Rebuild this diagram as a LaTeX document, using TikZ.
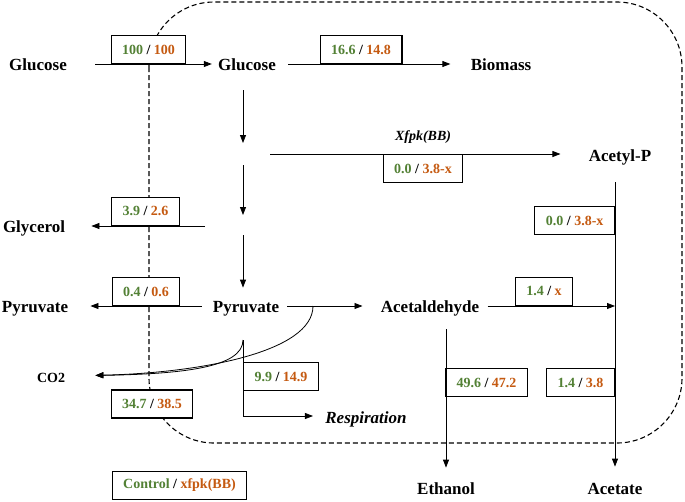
\documentclass[tikz,border=0pt]{standalone}
\usepackage{fontspec}
\setmainfont{Liberation Serif}
\usetikzlibrary{arrows.meta}
\definecolor{ctrlgreen}{HTML}{538135}
\definecolor{xfpkorange}{HTML}{C55A11}
\newcommand{\fluxpair}[2]{\textcolor{ctrlgreen}{#1} / \textcolor{xfpkorange}{#2}}

\begin{document}
\begin{tikzpicture}[x=1pt,y=-1pt,->,>={Triangle[length=8pt,width=6pt]},%
    line width=0.8pt,
    met/.style={font=\fontsize{17}{20}\selectfont\bfseries,inner sep=0pt,
        text height=12pt,text depth=0pt},
    flux/.style={draw,fill=white,line width=1.1pt,
        font=\fontsize{14}{16}\selectfont\bfseries,
        minimum height=28pt,inner xsep=11pt,inner ysep=0pt},
    cell/.style={-,dash pattern=on 5pt off 3pt,line width=1.1pt,
        rounded corners=65pt}]

    \useasboundingbox (0,0) rectangle (685,501);
    \draw[cell] (149,2) rectangle (682,443);

    \node[met] (glcout)   at (38,64)   {Glucose};
    \node[met] (glcin)    at (247,64)  {Glucose};
    \node[met] (biomass)  at (501,64)  {Biomass};
    \node[met] (acetylp)  at (620,155) {Acetyl-P};
    \node[met] (glycerol) at (34,226)  {Glycerol};
    \node[met] (pyrout)   at (35,306)  {Pyruvate};
    \node[met] (pyr)      at (246,306) {Pyruvate};
    \node[met] (acald)    at (430,306) {Acetaldehyde};
    \node[met,font=\fontsize{14}{16}\selectfont\bfseries] (co2) at (51,376) {CO2};
    \node[met] (ethanol)  at (446,488) {Ethanol};
    \node[met] (acetate)  at (615,488) {Acetate};
    \node[met,font=\fontsize{17}{20}\selectfont\bfseries\itshape] (resp) at (366,417) {Respiration};
    \node[font=\fontsize{14}{16}\selectfont\bfseries\itshape] (xfpklab) at (423,137) {Xfpk(BB)};

    \coordinate (n1) at (243,154);
    \coordinate (n2) at (243,226);
    \coordinate (n3) at (243,340);
    \coordinate (n4) at (313,306);
    \coordinate (n5) at (243,416);
    \coordinate (n6) at (615,306);

    \node[flux,anchor=south]      (f1)  at (148.5,64) {\fluxpair{100}{100}};
    \node[flux,anchor=south]      (f2)  at (361,64)   {\fluxpair{16.6}{14.8}};
    \node[flux,anchor=north]      (f3)  at (423,154)  {\fluxpair{0.0}{3.8-x}};
    \node[flux,anchor=south east] (f4)  at (615,235)  {\fluxpair{0.0}{3.8-x}};
    \node[flux,anchor=south]      (f5)  at (145.5,226){\fluxpair{3.9}{2.6}};
    \node[flux,anchor=south]      (f6)  at (146,306)  {\fluxpair{0.4}{0.6}};
    \node[flux,anchor=south]      (f7)  at (544,306)  {\fluxpair{1.4}{x}};
    \node[flux,anchor=north west] (f8)  at (243,362)  {\fluxpair{9.9}{14.9}};
    \node[flux,anchor=north west] (f9)  at (445,368)  {\fluxpair{49.6}{47.2}};
    \node[flux,anchor=north east] (f10) at (615,368)  {\fluxpair{1.4}{3.8}};
    \node[flux]                   (f11) at (152,404)  {\fluxpair{34.7}{38.5}};
    \node[flux]                   (legend) at (179.5,485.5) {\fluxpair{Control}{xfpk(BB)}};

    \draw[shorten <=28pt,shorten >=6pt]  (glcout) -- (glcin);
    \draw[shorten <=12pt,shorten >=20pt] (glcin) -- (biomass);
    \draw[shorten <=20pt,shorten >=11pt] (n1 |- glcin.south) -- (n1);
    \draw[shorten <=11pt,shorten >=11pt] (n1) -- (n2);
    \draw[shorten <=9pt,shorten >=12pt]  (n2) -- (n2 |- pyr.north);
    \draw[shorten <=27pt,shorten >=28pt] (n1) -- (n1 -| acetylp.west);
    \draw[shorten <=38pt,shorten >=26pt] (n2) -- (n2 -| glycerol.east);
    \draw[shorten <=11pt,shorten >=22pt] (pyr) -- (pyrout);
    \draw[shorten <=8pt,shorten >=18pt]  (pyr) -- (acald);
    \draw[shorten <=8pt]                 (acald) -- (n6);
    \draw[shorten <=21pt,shorten >=15pt] (n6 |- acetylp.south) -- (n6 |- acetate.north);
    \draw[shorten <=17pt,shorten >=14pt] (acald.south -| ethanol) -- (ethanol);
    \draw[shorten >=30pt] (n4) .. controls (313,352) and (200,373) .. (co2.east);
    \draw[shorten >=30pt] (n3) .. controls (243,368) and (180,374) .. (co2.east);
    \draw[shorten >=12pt] (n3) -- (n5) -- (n5 -| resp.west);
\end{tikzpicture}
\end{document}
